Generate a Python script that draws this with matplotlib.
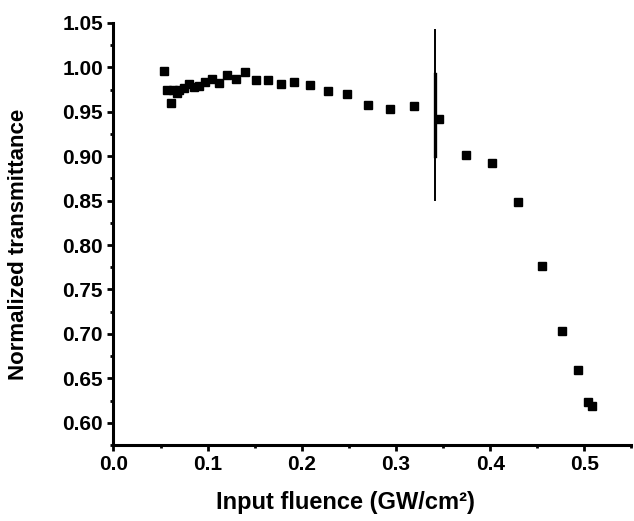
import matplotlib
matplotlib.use("Agg")
import matplotlib.pyplot as plt
from matplotlib.ticker import MultipleLocator, FormatStrFormatter

# input fluence (GW/cm^2) and normalized transmittance
fluence = [0.054, 0.057, 0.061, 0.063, 0.067, 0.070, 0.075, 0.080, 0.0855, 0.091,
           0.0975, 0.1046, 0.112, 0.121, 0.130, 0.140, 0.151, 0.164, 0.1775, 0.192,
           0.2086, 0.2277, 0.2475, 0.270, 0.294, 0.319, 0.346, 0.374, 0.402, 0.4294,
           0.4545, 0.4765, 0.4934, 0.504, 0.508]
transmittance = [0.996, 0.975, 0.960, 0.975, 0.971, 0.974, 0.977, 0.981, 0.978, 0.9785,
                 0.983, 0.987, 0.982, 0.991, 0.987, 0.995, 0.986, 0.9855, 0.981, 0.9836,
                 0.980, 0.9735, 0.970, 0.958, 0.953, 0.956, 0.942, 0.901, 0.892, 0.848,
                 0.776, 0.703, 0.659, 0.623, 0.619]

# vertical marker line
line_x = 0.3416
line_thin = [0.851, 1.042]
line_thick = [0.900, 0.993]

plt.rcParams['font.family'] = ['Liberation Sans', 'DejaVu Sans']
plt.rcParams['font.weight'] = 'bold'

fig = plt.figure(figsize=(6.34, 5.21), dpi=100)
ax = fig.add_axes([0.179, 0.146, 0.817, 0.810])

ax.plot(fluence, transmittance, 's', color='black', markersize=5.8, zorder=3)
ax.plot([line_x, line_x], line_thin, color='black', linewidth=1.4)
ax.plot([line_x, line_x], line_thick, color='black', linewidth=2.4)

ax.set_xlim(0, 0.55)
ax.set_ylim(0.575, 1.05)
ax.xaxis.set_major_locator(MultipleLocator(0.1))
ax.xaxis.set_minor_locator(MultipleLocator(0.05))
ax.yaxis.set_major_locator(MultipleLocator(0.05))
ax.yaxis.set_minor_locator(MultipleLocator(0.025))
ax.xaxis.set_major_formatter(FormatStrFormatter('%.1f'))
ax.yaxis.set_major_formatter(FormatStrFormatter('%.2f'))

for s in ['top', 'right']:
    ax.spines[s].set_visible(False)
for s in ['left', 'bottom']:
    ax.spines[s].set_linewidth(2.2)

ax.tick_params(which='major', direction='out', length=4.5, width=2, labelsize=15, pad=3)
ax.tick_params(which='minor', direction='out', length=2.5, width=2)
for lab in ax.get_xticklabels() + ax.get_yticklabels():
    lab.set_fontweight('bold')

ax.set_xlabel('Input fluence (GW/cm²)', fontsize=17, fontweight='bold')
ax.set_ylabel('Normalized transmittance', fontsize=16, fontweight='bold')
ax.xaxis.set_label_coords(0.448, -0.11)
ax.yaxis.set_label_coords(-0.163, 0.475)

fig.savefig('out.png', dpi=100)
